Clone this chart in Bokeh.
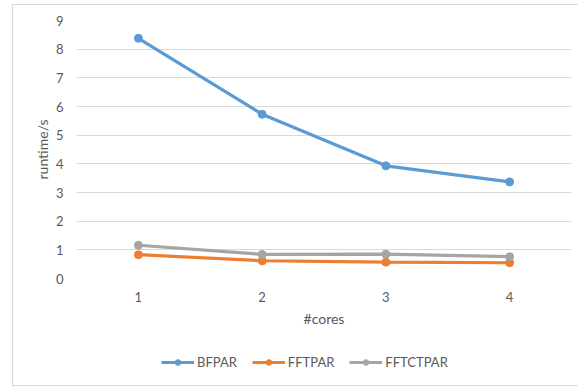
from bokeh.plotting import figure
from bokeh.layouts import column
from bokeh.models import FixedTicker, Legend, LegendItem, Range1d
from bokeh.embed import file_html
from bokeh.resources import INLINE

cores = [1, 2, 3, 4]
bfpar = [8.38, 5.73, 3.93, 3.37]
fftpar = [0.83, 0.62, 0.57, 0.55]
fftctpar = [1.16, 0.84, 0.85, 0.76]
series_names = ["BFPAR", "FFTPAR", "FFTCTPAR"]
colors = ["#5B9BD5", "#ED7D31", "#A5A5A5"]
y_ticks = [0, 1, 2, 3, 4, 5, 6, 7, 8, 9]

FONT = "Lato"
GREY = "#595959"

p = figure(width=566, height=340, output_backend="svg", toolbar_location=None,
           x_range=Range1d(0.5, 4.5), y_range=Range1d(0, 9),
           min_border_left=63, min_border_right=8, min_border_top=15, min_border_bottom=67)
p.outline_line_color = None
p.background_fill_color = "white"
p.border_fill_color = "white"

p.xgrid.grid_line_color = None
p.ygrid.grid_line_color = "#d9d9d9"
p.ygrid.grid_line_width = 1
p.yaxis.ticker = FixedTicker(ticks=y_ticks)
p.xaxis.ticker = FixedTicker(ticks=cores)

for ax in (p.xaxis[0], p.yaxis[0]):
    ax.axis_line_color = None
    ax.major_tick_line_color = None
    ax.minor_tick_line_color = None
    ax.major_tick_out = 0
    ax.major_tick_in = 0
    ax.major_label_text_color = GREY
    ax.major_label_text_font = FONT
    ax.major_label_text_font_size = "13px"
    ax.axis_label_text_color = GREY
    ax.axis_label_text_font = FONT
    ax.axis_label_text_font_size = "14px"
    ax.axis_label_text_font_style = "normal"

p.yaxis.axis_label = "runtime/s"
p.yaxis.major_label_standoff = 13
p.yaxis.axis_label_standoff = 2
p.xaxis.axis_label = "#cores"
p.xaxis.major_label_standoff = 13
p.xaxis.axis_label_standoff = 5

all_series = [bfpar, fftpar, fftctpar]
for vals, c in zip(all_series, colors):
    p.line(cores, vals, line_color=c, line_width=3.2)
    p.scatter(cores, vals, size=8, fill_color=c, line_color=c)

# legend strip below the chart
lg = figure(width=566, height=40, output_backend="svg", toolbar_location=None,
            x_range=Range1d(100, 101), y_range=Range1d(100, 101),
            x_axis_type=None, y_axis_type=None,
            min_border_left=0, min_border_right=0, min_border_top=0, min_border_bottom=0)
lg.outline_line_color = None
lg.xgrid.grid_line_color = None
lg.ygrid.grid_line_color = None
lg.border_fill_color = "white"

items = []
for name, vals, c in zip(series_names, all_series, colors):
    r1 = lg.line(cores, vals, line_color=c, line_width=3.2)
    r2 = lg.scatter(cores, vals, size=9, fill_color=c, line_color=c)
    items.append(LegendItem(label=name, renderers=[r1, r2]))

legend = Legend(items=items, orientation="horizontal", location=(85, 15),
                glyph_width=33, glyph_height=14, label_standoff=3, spacing=15,
                padding=0, margin=0, border_line_color=None, background_fill_alpha=0,
                label_text_font=FONT, label_text_font_size="13px", label_text_color=GREY)
lg.add_layout(legend, "center")

layout = column(p, lg, spacing=0,
                styles={"margin-left": "12px", "margin-top": "4px", "border": "1px solid #d9d9d9"})

open("out.html", "w").write(file_html(layout, INLINE))
